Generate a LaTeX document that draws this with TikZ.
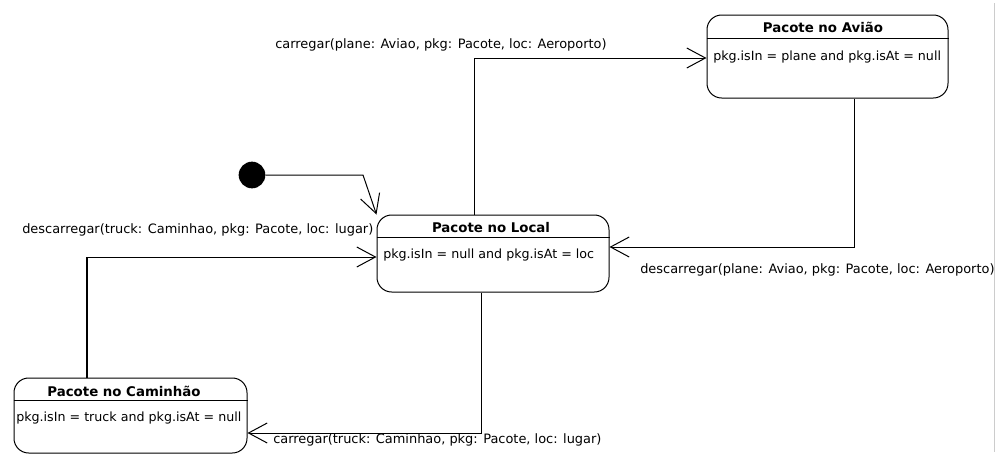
\documentclass[tikz,border=0pt]{standalone}
\usepackage{fontspec}
\setmainfont{DejaVu Sans}
\usetikzlibrary{arrows.meta, calc, fit}

\begin{document}
\begin{tikzpicture}[
  x=0.75pt, y=-0.75pt,
  statebox/.style = {draw, rounded corners=11pt, inner sep=0pt, line width=0.75pt},
  statetitle/.style = {inner sep=0pt, font=\bfseries\fontsize{10}{12}\selectfont},
  statebody/.style = {anchor=west, inner sep=0pt, font=\fontsize{9.5}{11}\selectfont},
  trans/.style = {-{Straight Barb[length=14pt, width=15pt]}, line width=0.75pt},
  translabel/.style = {anchor=west, inner sep=0pt, font=\fontsize{9.7}{11}\selectfont},
  startdot/.style = {circle, fill=black, minimum size=20pt, inner sep=0pt}
]
\useasboundingbox (0,0) rectangle (997,458);

% States
\node[statebox, fit={(707,15) (948,98)}] (aviao) {};
\node[statebox, fit={(377,215) (609,292)}] (local) {};
\node[statebox, fit={(14,378) (247,453)}] (caminhao) {};

\draw[line width=0.75pt] ($(aviao.north west)+(0,24)$) -- ($(aviao.north east)+(0,24)$);
\draw[line width=0.75pt] ($(local.north west)+(0,23)$) -- ($(local.north east)+(0,23)$);
\draw[line width=0.75pt] ($(caminhao.north west)+(0,23)$) -- ($(caminhao.north east)+(0,23)$);

\node[statetitle] (aviaoT) at (823,27) {Pacote no Avião};
\node[statetitle] (localT) at (491,228) {Pacote no Local};
\node[statetitle] (caminhaoT) at (124,391) {Pacote no Caminhão};

\node[statebody] (aviaoB) at (713,57) {pkg.isIn = plane and pkg.isAt = null};
\node[statebody] (localB) at (383,255) {pkg.isIn = null and pkg.isAt = loc};
\node[statebody] (caminhaoB) at (16,418) {pkg.isIn = truck and pkg.isAt = null};

% Initial state
\node[startdot] (start) at (252,175) {};
\coordinate (b0) at (363,175);
\draw[trans] (start.east) -- (b0) -- (local.north west);

% Bends
\coordinate (b1) at (474,58);
\coordinate (b2) at (854,247);
\coordinate (b3) at (87,257);
\coordinate (b4) at (481,433);

% Transitions
\draw[trans] (local.north -| b1) |- (aviao.west |- b1);
\draw[trans] (aviao.south -| b2) |- (local.east |- b2);
\draw[trans] (caminhao.north -| b3) |- (local.west |- b3);
\draw[line width=1.4pt] (caminhao.north -| b3) -- (b3);
\draw[trans] (local.south -| b4) |- (caminhao.east |- b4);

\node[translabel] (l1) at (275,45) {carregar(plane: Aviao, pkg: Pacote, loc: Aeroporto)};
\node[translabel] (l2) at (640,270) {descarregar(plane: Aviao, pkg: Pacote, loc: Aeroporto)};
\node[translabel] (l3) at (22,230) {descarregar(truck: Caminhao, pkg: Pacote, loc: lugar)};
\node[translabel] (l4) at (273,440) {carregar(truck: Caminhao, pkg: Pacote, loc: lugar)};

% Frame edge
\draw[gray!40] (994,3) -- (994,452);

\end{tikzpicture}
\end{document}
